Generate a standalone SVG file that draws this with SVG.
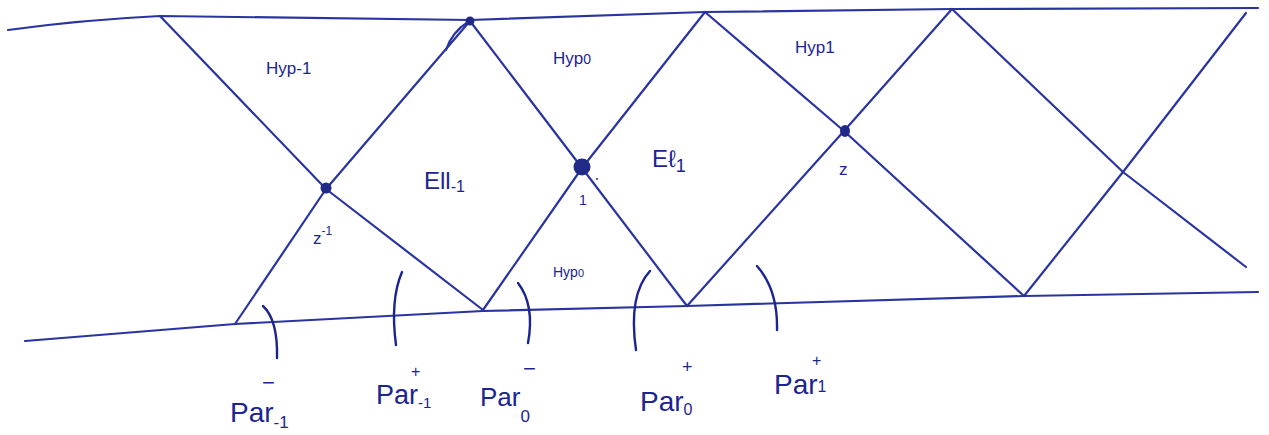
<svg xmlns="http://www.w3.org/2000/svg" width="1269" height="435" viewBox="0 0 1269 435">
<defs>
<style>
.ln{fill:none;stroke:#2a34a0;stroke-width:2.2;stroke-linecap:round;stroke-linejoin:round}
.br{fill:none;stroke:#1c2490;stroke-width:2.4;stroke-linecap:round}
.dot{fill:#222a88}
.t{fill:#1c2490;font-family:"Liberation Sans",Arial,sans-serif}
.s{font-size:17px}
.m{font-size:24px}
.sub{font-size:17px}
</style>
</defs>
<rect width="1269" height="435" fill="#ffffff"/>
<g id="connectors">
<path class="ln" d="M8,30 Q80,20 160,16 L470,20 L705,12 L952,9 L1258,8"/>
<path class="ln" d="M25,341 L235,324 L483,311 L687,306 L1024,296 L1258,292"/>
<path class="ln" d="M160,16 L326,189 L483,310"/>
<path class="ln" d="M235,324 L326,189 L470,21"/>
<path class="ln" d="M470,21 L582,168 L687,306"/>
<path class="ln" d="M483,310 L582,168 L705,12"/>
<path class="ln" d="M705,12 L844,131 L1024,296"/>
<path class="ln" d="M687,306 L844,131 L952,9"/>
<path class="ln" d="M952,9 L1123,172 L1246,267"/>
<path class="ln" d="M1024,296 L1123,172 L1246,13"/>
<path class="ln" d="M446,50 Q452,32 468,22"/>
</g>
<g id="brackets">
<path class="br" d="M263,306 Q278,320 277,358"/>
<path class="br" d="M402,272 Q390,300 396,345"/>
<path class="br" d="M518,283 Q535,305 528,343"/>
<path class="br" d="M650,271 Q628,295 636,350"/>
<path class="br" d="M757,266 Q778,290 777,330"/>
</g>
<g id="node-hyp-m1"><text class="t s" x="266" y="74">Hyp-1</text></g>
<g id="node-hyp0-top"><text class="t s" x="553" y="64">Hyp<tspan font-size="14">0</tspan></text></g>
<g id="node-hyp1"><text class="t s" x="795" y="53">Hyp1</text></g>
<g id="node-hyp0-bottom"><text class="t" font-size="14" x="553" y="277">Hyp<tspan font-size="11">0</tspan></text></g>
<g id="node-ell-m1"><text class="t m" x="424" y="189">Ell<tspan font-size="16" dy="3">-1</tspan></text></g>
<g id="node-ell1"><text class="t m" x="652" y="167">Eℓ<tspan font-size="18" dy="5">1</tspan></text></g>
<g id="node-zm1"><circle class="dot" cx="326" cy="188" r="5.5"/><text class="t s" x="313" y="244">z<tspan font-size="12" dy="-9">-1</tspan></text></g>
<g id="node-top"><circle class="dot" cx="470" cy="21" r="4.5"/></g>
<g id="node-one"><circle class="dot" cx="582" cy="167" r="8.5"/><circle class="dot" cx="597" cy="179" r="1"/><text class="t" font-size="14" x="579" y="205">1</text></g>
<g id="node-z"><ellipse class="dot" cx="845" cy="131" rx="5" ry="6"/><text class="t s" x="839" y="175">z</text></g>
<g id="label-par-m1-minus"><text class="t" font-size="28" x="230" y="422">Par<tspan class="sub" dy="6">-1</tspan></text><text class="t" font-size="22" x="262" y="390">−</text></g>
<g id="label-par-m1-plus"><text class="t" font-size="27" x="376" y="404">Par<tspan font-size="15" dy="4">-1</tspan></text><text class="t" font-size="16" x="411" y="377">+</text></g>
<g id="label-par-0-minus"><text class="t" font-size="26" x="480" y="406">Par<tspan class="sub" dy="16">0</tspan></text><text class="t" font-size="22" x="523" y="376">−</text></g>
<g id="label-par-0-plus"><text class="t" font-size="28" x="640" y="411">Par<tspan font-size="16" dy="4">0</tspan></text><text class="t" font-size="18" x="682" y="373">+</text></g>
<g id="label-par-1-plus"><text class="t" font-size="28" x="774" y="394">Par<tspan font-size="16" dy="-2">1</tspan></text><text class="t" font-size="16" x="812" y="366">+</text></g>
</svg>
